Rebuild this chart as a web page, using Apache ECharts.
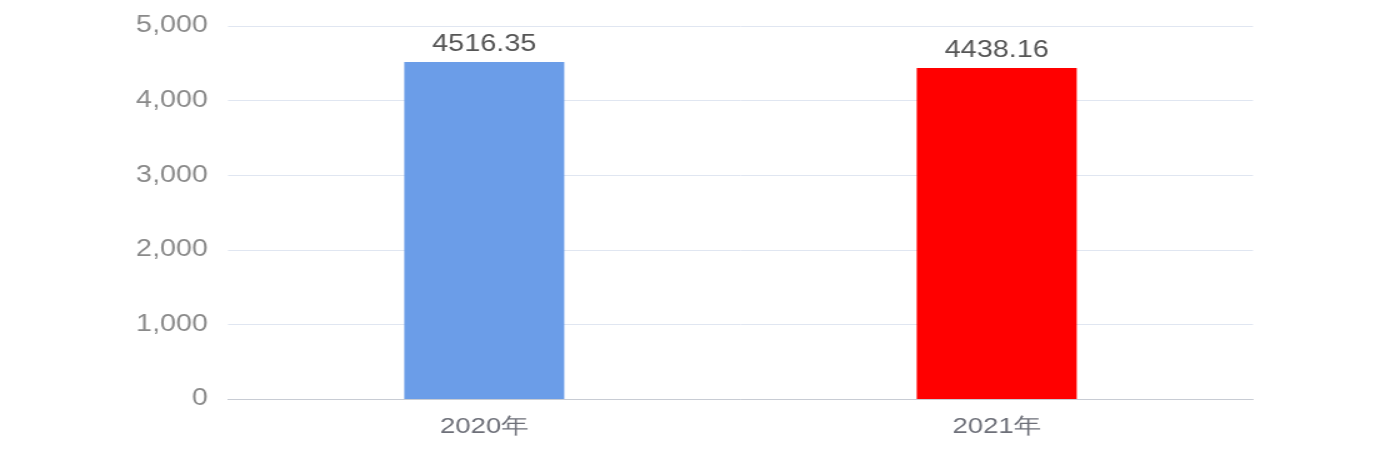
<!DOCTYPE html>
<html>
<head>
<meta charset="utf-8">
<script src="https://cdn.jsdelivr.net/npm/echarts@6/dist/echarts.min.js"></script>
<style>
  html, body { margin: 0; padding: 0; background: #fff; overflow: hidden; }
  #wrap { width: 1386px; height: 462px; overflow: hidden; }
  #chart { width: 1109px; height: 462px; transform: scaleX(1.25); transform-origin: 0 0; }
</style>
</head>
<body>
<div id="wrap"><div id="chart"></div></div>
<script>
const categories = ['2020年', '2021年'];
const values = [4516.35, 4438.16];
const barColors = ['#6b9de8', '#ff0000'];
const yTicks = [0, 1000, 2000, 3000, 4000, 5000];

const chart = echarts.init(document.getElementById('chart'), null, { renderer: 'canvas' });
chart.setOption({
  animation: false,
  grid: { left: 182.4, right: 106.6, top: 26, bottom: 63, containLabel: false },
  xAxis: {
    type: 'category',
    data: categories,
    axisTick: { show: false },
    axisLine: { lineStyle: { color: '#c8ccd4' } },
    axisLabel: { color: '#6E7079', fontSize: 22, fontFamily: 'Liberation Sans', margin: 17 }
  },
  yAxis: {
    type: 'value',
    min: yTicks[0],
    max: yTicks[yTicks.length - 1],
    interval: yTicks[1] - yTicks[0],
    axisLabel: { color: '#8a8a8a', fontSize: 23, fontFamily: 'Liberation Sans', margin: 16 },
    splitLine: { lineStyle: { color: '#E0E6F1' } }
  },
  series: [{
    type: 'bar',
    barWidth: 128,
    data: values.map((v, i) => ({ value: v, itemStyle: { color: barColors[i] } })),
    label: {
      show: true,
      position: 'top',
      distance: 6,
      color: '#555',
      fontSize: 23,
      fontFamily: 'Liberation Sans'
    }
  }]
});
</script>
</body>
</html>
